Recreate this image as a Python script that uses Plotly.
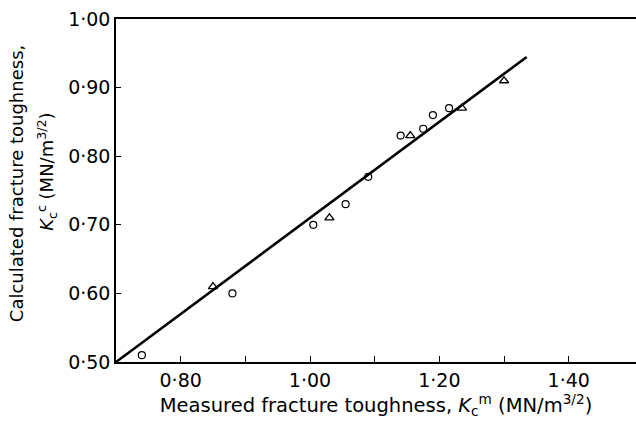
import plotly.graph_objects as go

# Measured vs calculated fracture toughness (MN/m^3/2)
circle_measured = [0.74, 0.88, 1.005, 1.055, 1.09, 1.14, 1.175, 1.19, 1.215]
circle_calculated = [0.51, 0.60, 0.70, 0.73, 0.77, 0.83, 0.84, 0.86, 0.87]

triangle_measured = [0.85, 1.03, 1.155, 1.235, 1.30]
triangle_calculated = [0.61, 0.71, 0.83, 0.87, 0.91]

# Fitted correlation line end points
fit_measured = [0.70, 1.335]
fit_calculated = [0.50, 0.9445]

x_tickvals = [0.80, 0.90, 1.00, 1.10, 1.20, 1.30, 1.40]
x_ticktext = ["0·80", "", "1·00", "", "1·20", "", "1·40"]
y_tickvals = [0.50, 0.60, 0.70, 0.80, 0.90, 1.00]
y_ticktext = ["0·50", "0·60", "0·70", "0·80", "0·90", "1·00"]

y_title_lines = [
    "Calculated fracture toughness,",
    "<i>K</i><sub>c</sub><sup>c</sup> (MN/m<sup>3/2</sup>)",
]

font_family = "DejaVu Sans, sans-serif"

fig = go.Figure()

fig.add_trace(go.Scatter(
    x=fit_measured, y=fit_calculated, mode="lines",
    line=dict(color="black", width=2.6), hoverinfo="skip", showlegend=False,
))
fig.add_trace(go.Scatter(
    x=circle_measured, y=circle_calculated, mode="markers",
    marker=dict(symbol="circle-open", size=7, color="black", line=dict(width=1.2)),
    showlegend=False,
))
fig.add_trace(go.Scatter(
    x=triangle_measured, y=triangle_calculated, mode="markers",
    marker=dict(symbol="triangle-up-open", size=8, color="black", line=dict(width=1.3)),
    showlegend=False,
))

# Two-line vertical axis title, each line placed on its own
fig.add_annotation(
    text=y_title_lines[0], textangle=-90, showarrow=False,
    xref="paper", yref="paper", x=-0.190, y=0.519,
    xanchor="center", yanchor="middle", font=dict(size=18),
)
fig.add_annotation(
    text=y_title_lines[1], textangle=-90, showarrow=False,
    xref="paper", yref="paper", x=-0.133, y=0.554,
    xanchor="center", yanchor="middle", font=dict(size=18),
)

fig.update_layout(
    width=636, height=427,
    margin=dict(l=116, r=0, t=19, b=65),
    paper_bgcolor="white", plot_bgcolor="white",
    font=dict(family=font_family, color="black", size=18),
    xaxis=dict(
        range=[0.70, 1.504], showgrid=False, zeroline=False,
        showline=True, linecolor="black", linewidth=1.5, mirror=True,
        ticks="inside", ticklen=6, tickwidth=1, tickcolor="black",
        tickvals=x_tickvals, ticktext=x_ticktext,
        tickfont=dict(size=19),
        title=dict(
            text="Measured fracture toughness, <i>K</i><sub>c</sub><sup>m</sup> (MN/m<sup>3/2</sup>)",
            font=dict(size=19.5), standoff=5,
        ),
    ),
    yaxis=dict(
        range=[0.50, 1.00], showgrid=False, zeroline=False,
        showline=True, linecolor="black", linewidth=1.5,
        ticks="inside", ticklen=5, tickwidth=1, tickcolor="black",
        tickvals=y_tickvals, ticktext=y_ticktext,
        tickfont=dict(size=19),
    ),
)

fig.write_html("out.html")
